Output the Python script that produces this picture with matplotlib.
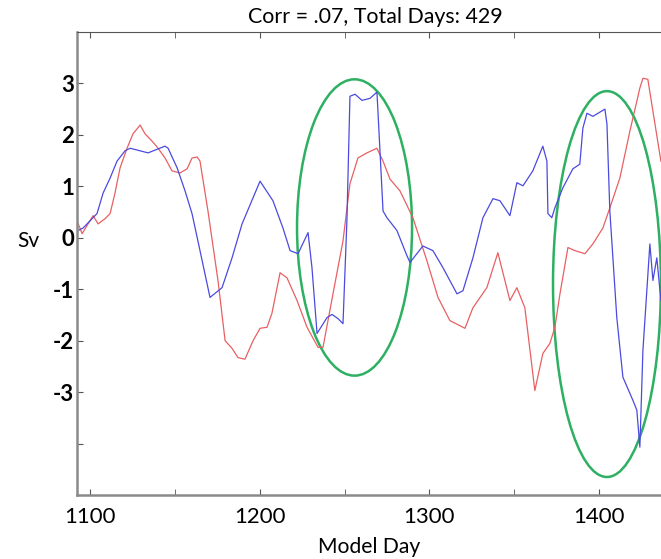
import matplotlib
matplotlib.use('Agg')
import matplotlib.pyplot as plt
from matplotlib.patches import Ellipse

plt.rcParams['font.family'] = ['Lato', 'DejaVu Sans']

# blue series (model day, Sv)
blue_day = [1092.9, 1095.9, 1100.0, 1104.1, 1107.7, 1111.8, 1115.9, 1120.6, 1123.6, 1129.5,
            1134.2, 1139.5, 1144.2, 1146.0, 1151.3, 1156.0, 1160.1, 1164.8, 1170.7, 1177.8,
            1183.7, 1189.6, 1200.2, 1207.8, 1213.7, 1217.9, 1222.6, 1228.5, 1230.8, 1233.8,
            1239.7, 1242.6, 1246.1, 1249.1, 1251.4, 1253.2, 1256.2, 1260.3, 1265.0, 1269.1,
            1269.7, 1272.7, 1275.0, 1280.9, 1286.8, 1288.6, 1296.2, 1302.1, 1308.0, 1316.3,
            1319.8, 1325.7, 1331.6, 1337.5, 1341.6, 1347.5, 1351.6, 1355.2, 1361.0, 1366.9,
            1369.3, 1369.9, 1372.2, 1374.0, 1378.7, 1384.6, 1388.7, 1390.5, 1392.9, 1396.4,
            1403.5, 1404.7, 1406.4, 1410.5, 1414.1, 1420.0, 1422.3, 1424.1, 1425.9, 1428.2,
            1430.0, 1431.8, 1434.1, 1436.5]
blue_sv = [0.14, 0.19, 0.33, 0.47, 0.87, 1.16, 1.49, 1.69, 1.74, 1.69,
           1.65, 1.72, 1.78, 1.74, 1.36, 0.91, 0.47, -0.25, -1.16, -0.97,
           -0.39, 0.27, 1.10, 0.72, 0.19, -0.25, -0.31, 0.10, -0.58, -1.86,
           -1.55, -1.49, -1.57, -1.67, 0.33, 2.75, 2.79, 2.67, 2.71, 2.83,
           2.46, 0.52, 0.39, 0.14, -0.35, -0.48, -0.16, -0.25, -0.58, -1.09,
           -1.03, -0.39, 0.39, 0.76, 0.72, 0.43, 1.07, 1.01, 1.30, 1.78,
           1.49, 0.47, 0.39, 0.58, 0.97, 1.34, 1.43, 2.13, 2.42, 2.36,
           2.50, 2.21, 0.52, -1.55, -2.71, -3.16, -3.35, -4.07, -2.19, -1.03,
           -0.12, -0.83, -0.39, -1.22]

# red series
red_day = [1092.3, 1095.3, 1101.8, 1104.7, 1108.8, 1111.8, 1114.7, 1117.7, 1121.8, 1125.3,
           1129.5, 1132.4, 1136.5, 1140.1, 1144.2, 1148.3, 1153.0, 1157.2, 1160.1, 1163.1,
           1164.8, 1169.5, 1175.4, 1179.6, 1183.7, 1187.2, 1191.3, 1196.1, 1200.2, 1204.3,
           1207.2, 1212.0, 1216.1, 1222.0, 1227.9, 1234.4, 1237.3, 1243.2, 1249.1, 1253.2,
           1257.9, 1263.2, 1269.1, 1272.7, 1276.8, 1282.7, 1290.3, 1298.6, 1305.1, 1312.1,
           1321.0, 1325.7, 1333.9, 1340.4, 1347.5, 1351.6, 1356.3, 1362.2, 1366.9, 1371.1,
           1374.0, 1377.0, 1381.7, 1385.8, 1391.7, 1396.4, 1402.3, 1406.4, 1412.3, 1418.2,
           1424.1, 1425.9, 1428.8, 1431.8, 1436.5]
red_sv = [0.33, 0.08, 0.43, 0.27, 0.37, 0.47, 0.87, 1.36, 1.74, 2.02,
          2.19, 2.02, 1.88, 1.74, 1.55, 1.30, 1.26, 1.34, 1.55, 1.57,
          1.49, 0.52, -0.83, -2.00, -2.15, -2.33, -2.36, -2.00, -1.76, -1.74,
          -1.47, -0.68, -0.78, -1.22, -1.74, -2.13, -2.13, -1.09, -0.06, 1.05,
          1.55, 1.65, 1.74, 1.49, 1.14, 0.91, 0.39, -0.45, -1.16, -1.61,
          -1.76, -1.36, -0.97, -0.29, -1.22, -0.97, -1.36, -2.97, -2.25, -2.05,
          -1.74, -1.09, -0.19, -0.25, -0.31, -0.12, 0.19, 0.58, 1.16, 2.07,
          2.91, 3.10, 3.08, 2.46, 1.49]

# highlighted regions: (center day, center Sv, width days, height Sv)
circles = [(1255.9, 0.20, 67.8, 5.76), (1404.7, -0.90, 63.6, 7.5)]

xticks = [1100, 1200, 1300, 1400]
yticks = [-3, -2, -1, 0, 1, 2, 3]

fig = plt.figure(figsize=(6.61, 5.59), dpi=100)
ax = fig.add_axes([0.1165, 0.1145, 0.986, 0.8283])

ax.plot(red_day, red_sv, color='#e86062', lw=0.9)
ax.plot(blue_day, blue_sv, color='#4a4ae0', lw=0.9)
for cx, cy, w, h in circles:
    ax.add_patch(Ellipse((cx, cy), w, h, fill=False, edgecolor='#2eb062', lw=1.8))

ax.set_xlim(1092.3, 1476.5)
ax.set_ylim(-5, 4)
ax.set_xticks(xticks)
ax.set_xticks(range(1100, 1451, 50), minor=True)
ax.set_yticks(range(-4, 4))
ax.set_yticklabels([str(v) if v in yticks else '' for v in range(-4, 4)])
ax.tick_params(axis='both', which='both', direction='in', length=4, color='#555555',
               top=True, labelsize=16)
ax.tick_params(axis='x', which='minor', labelbottom=False)
ax.tick_params(axis='x', pad=9)
ax.tick_params(axis='y', pad=2)
for lbl in ax.get_yticklabels():
    lbl.set_fontweight('bold')

for s in ['left', 'bottom']:
    ax.spines[s].set_color('#8a8a8a')
    ax.spines[s].set_linewidth(1.8)
ax.spines['top'].set_color('#555555')
ax.spines['top'].set_linewidth(0.8)

fig.text(375 / 661, 1 - 17 / 559, 'Corr = .07, Total Days: 429', ha='center', va='center', fontsize=15.4)
fig.text(369 / 661, 1 - 547 / 559, 'Model Day', ha='center', va='center', fontsize=15.2)
fig.text(28 / 661, 1 - 241 / 559, 'Sv', ha='center', va='center', fontsize=15)

fig.savefig('out.png', dpi=100)
